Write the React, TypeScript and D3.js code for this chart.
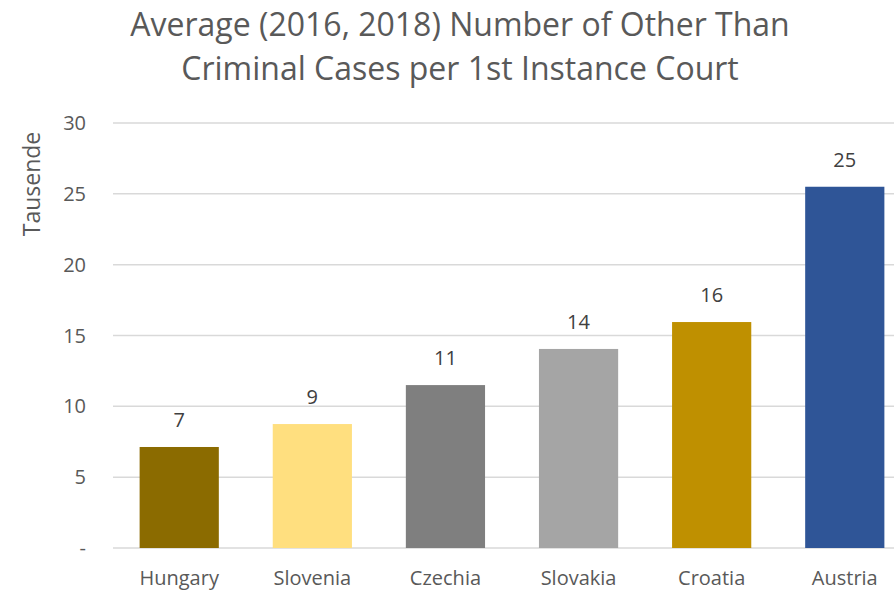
import React from "react";
import * as d3 from "d3";

const categories = ["Hungary", "Slovenia", "Czechia", "Slovakia", "Croatia", "Austria"];
const values = [7.13, 8.75, 11.5, 14.05, 15.95, 25.5];
const valueLabels = ["7", "9", "11", "14", "16", "25"];
const colors = ["#8B6B00", "#FFDF7F", "#7F7F7F", "#A5A5A5", "#BF9000", "#2F5597"];
const yTicks = [0, 5, 10, 15, 20, 25, 30];
const yTickLabels = ["-", "5", "10", "15", "20", "25", "30"];
const titleLines = ["Average (2016, 2018) Number of Other Than", "Criminal Cases per 1st Instance Court"];
const yAxisTitle = "Tausende";

const W = 894;
const H = 590;
const FONT = "'Open Sans', 'Noto Sans', sans-serif";

export default function App() {
  const x = d3.scaleBand<string>().domain(categories).range([113, 911]).paddingInner(0.405).paddingOuter(0.2);
  const y = d3.scaleLinear().domain([0, 30]).range([548, 123]);
  const bw = x.bandwidth();
  return (
    <svg width={W} height={H} style={{ position: "absolute", left: 0, top: 0, background: "#fff" }} fontFamily={FONT}>
      <rect x={0} y={0} width={W} height={H} fill="#fff" />
      {titleLines.map((t, i) => (
        <text key={i} x={460} y={36 + i * 44} textAnchor="middle" fontSize={32} fill="#595959">{t}</text>
      ))}
      {yTicks.map((t, i) => (
        <g key={t}>
          <line x1={113} x2={W} y1={y(t)} y2={y(t)} stroke="#D9D9D9" strokeWidth={1.5} />
          <text x={86} y={y(t) + 7} textAnchor="end" fontSize={20} fill="#595959">{yTickLabels[i]}</text>
        </g>
      ))}
      <text transform={`translate(40,184) rotate(-90)`} textAnchor="middle" fontSize={23} fill="#595959">{yAxisTitle}</text>
      {categories.map((c, i) => (
        <g key={c}>
          <rect x={x(c)!} y={y(values[i])} width={bw} height={y(0) - y(values[i])} fill={colors[i]} />
          <text x={x(c)! + bw / 2} y={y(values[i]) - 20} textAnchor="middle" fontSize={20} fill="#404040">{valueLabels[i]}</text>
          <text x={x(c)! + bw / 2} y={585} textAnchor="middle" fontSize={20} fill="#595959">{c}</text>
        </g>
      ))}
    </svg>
  );
}
